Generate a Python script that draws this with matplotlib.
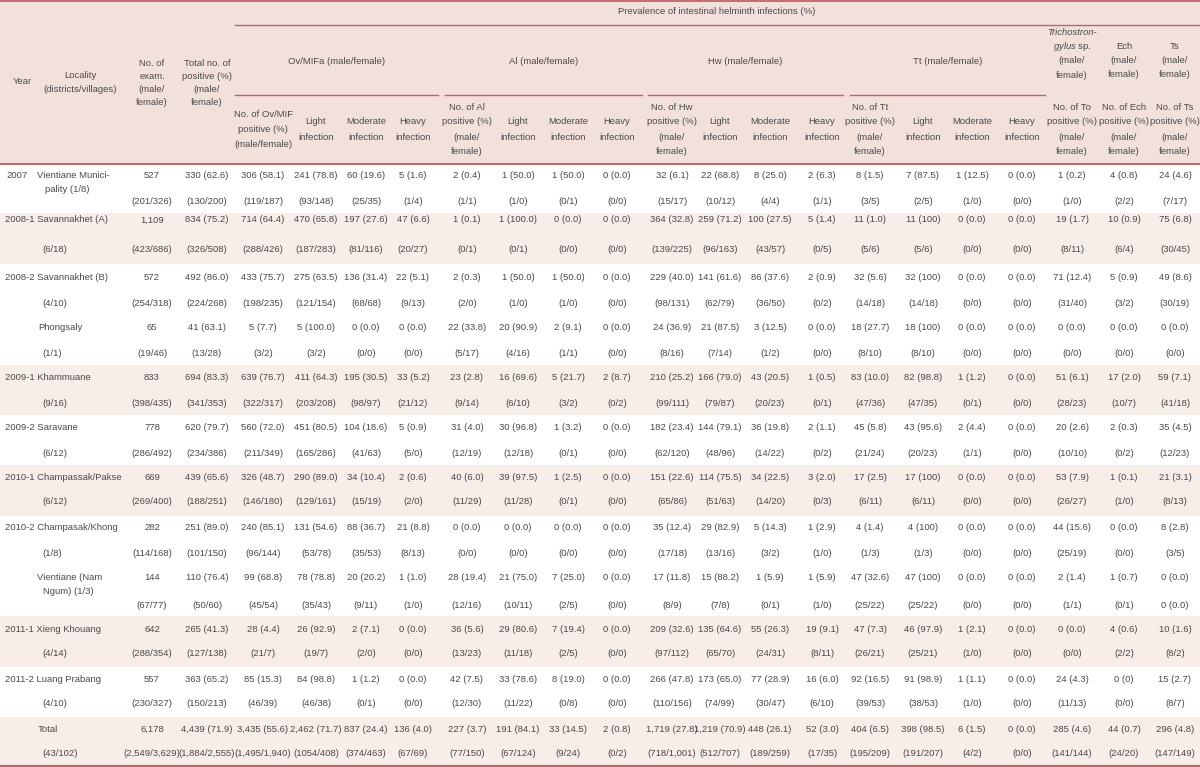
import matplotlib
matplotlib.use("Agg")
import matplotlib.pyplot as plt
from matplotlib.patches import Rectangle
from matplotlib import font_manager

# ---------------- data ----------------
years = ["2007", "2008-1", "2008-2", "", "2009-1", "2009-2", "2010-1", "2010-2", "", "2011-1", "2011-2", ""]
localities = ["Vientiane Munici-\npality (1/8)", "Savannakhet (A)", "Savannakhet (B)", "Phongsaly",
              "Khammuane", "Saravane", "Champassak/Pakse", "Champasak/Khong",
              "Vientiane (Nam\nNgum) (1/3)", "Xieng Khouang", "Luang Prabang", "Total"]
villages = ["", "(6/18)", "(4/10)", "(1/1)", "(9/16)", "(6/12)", "(6/12)", "(1/8)", "", "(4/14)", "(4/10)", "(43/102)"]

exam = [("527", "(201/326)"), ("1,109", "(423/686)"), ("572", "(254/318)"), ("65", "(19/46)"),
        ("833", "(398/435)"), ("778", "(286/492)"), ("669", "(269/400)"), ("282", "(114/168)"),
        ("144", "(67/77)"), ("642", "(288/354)"), ("557", "(230/327)"), ("6,178", "(2,549/3,629)")]
total_pos = [("330 (62.6)", "(130/200)"), ("834 (75.2)", "(326/508)"), ("492 (86.0)", "(224/268)"),
             ("41 (63.1)", "(13/28)"), ("694 (83.3)", "(341/353)"), ("620 (79.7)", "(234/386)"),
             ("439 (65.6)", "(188/251)"), ("251 (89.0)", "(101/150)"), ("110 (76.4)", "(50/60)"),
             ("265 (41.3)", "(127/138)"), ("363 (65.2)", "(150/213)"), ("4,439 (71.9)", "(1,884/2,555)")]
ov_no = [("306 (58.1)", "(119/187)"), ("714 (64.4)", "(288/426)"), ("433 (75.7)", "(198/235)"),
         ("5 (7.7)", "(3/2)"), ("639 (76.7)", "(322/317)"), ("560 (72.0)", "(211/349)"),
         ("326 (48.7)", "(146/180)"), ("240 (85.1)", "(96/144)"), ("99 (68.8)", "(45/54)"),
         ("28 (4.4)", "(21/7)"), ("85 (15.3)", "(46/39)"), ("3,435 (55.6)", "(1,495/1,940)")]
ov_light = [("241 (78.8)", "(93/148)"), ("470 (65.8)", "(187/283)"), ("275 (63.5)", "(121/154)"),
            ("5 (100.0)", "(3/2)"), ("411 (64.3)", "(203/208)"), ("451 (80.5)", "(165/286)"),
            ("290 (89.0)", "(129/161)"), ("131 (54.6)", "(53/78)"), ("78 (78.8)", "(35/43)"),
            ("26 (92.9)", "(19/7)"), ("84 (98.8)", "(46/38)"), ("2,462 (71.7)", "(1054/408)")]
ov_mod = [("60 (19.6)", "(25/35)"), ("197 (27.6)", "(81/116)"), ("136 (31.4)", "(68/68)"),
          ("0 (0.0)", "(0/0)"), ("195 (30.5)", "(98/97)"), ("104 (18.6)", "(41/63)"),
          ("34 (10.4)", "(15/19)"), ("88 (36.7)", "(35/53)"), ("20 (20.2)", "(9/11)"),
          ("2 (7.1)", "(2/0)"), ("1 (1.2)", "(0/1)"), ("837 (24.4)", "(374/463)")]
ov_heavy = [("5 (1.6)", "(1/4)"), ("47 (6.6)", "(20/27)"), ("22 (5.1)", "(9/13)"),
            ("0 (0.0)", "(0/0)"), ("33 (5.2)", "(21/12)"), ("5 (0.9)", "(5/0)"),
            ("2 (0.6)", "(2/0)"), ("21 (8.8)", "(8/13)"), ("1 (1.0)", "(1/0)"),
            ("0 (0.0)", "(0/0)"), ("0 (0.0)", "(0/0)"), ("136 (4.0)", "(67/69)")]
al_no = [("2 (0.4)", "(1/1)"), ("1 (0.1)", "(0/1)"), ("2 (0.3)", "(2/0)"), ("22 (33.8)", "(5/17)"),
         ("23 (2.8)", "(9/14)"), ("31 (4.0)", "(12/19)"), ("40 (6.0)", "(11/29)"), ("0 (0.0)", "(0/0)"),
         ("28 (19.4)", "(12/16)"), ("36 (5.6)", "(13/23)"), ("42 (7.5)", "(12/30)"), ("227 (3.7)", "(77/150)")]
al_light = [("1 (50.0)", "(1/0)"), ("1 (100.0)", "(0/1)"), ("1 (50.0)", "(1/0)"), ("20 (90.9)", "(4/16)"),
            ("16 (69.6)", "(6/10)"), ("30 (96.8)", "(12/18)"), ("39 (97.5)", "(11/28)"), ("0 (0.0)", "(0/0)"),
            ("21 (75.0)", "(10/11)"), ("29 (80.6)", "(11/18)"), ("33 (78.6)", "(11/22)"), ("191 (84.1)", "(67/124)")]
al_mod = [("1 (50.0)", "(0/1)"), ("0 (0.0)", "(0/0)"), ("1 (50.0)", "(1/0)"), ("2 (9.1)", "(1/1)"),
          ("5 (21.7)", "(3/2)"), ("1 (3.2)", "(0/1)"), ("1 (2.5)", "(0/1)"), ("0 (0.0)", "(0/0)"),
          ("7 (25.0)", "(2/5)"), ("7 (19.4)", "(2/5)"), ("8 (19.0)", "(0/8)"), ("33 (14.5)", "(9/24)")]
al_heavy = [("0 (0.0)", "(0/0)"), ("0 (0.0)", "(0/0)"), ("0 (0.0)", "(0/0)"), ("0 (0.0)", "(0/0)"),
            ("2 (8.7)", "(0/2)"), ("0 (0.0)", "(0/0)"), ("0 (0.0)", "(0/0)"), ("0 (0.0)", "(0/0)"),
            ("0 (0.0)", "(0/0)"), ("0 (0.0)", "(0/0)"), ("0 (0.0)", "(0/0)"), ("2 (0.8)", "(0/2)")]
hw_no = [("32 (6.1)", "(15/17)"), ("364 (32.8)", "(139/225)"), ("229 (40.0)", "(98/131)"),
         ("24 (36.9)", "(8/16)"), ("210 (25.2)", "(99/111)"), ("182 (23.4)", "(62/120)"),
         ("151 (22.6)", "(65/86)"), ("35 (12.4)", "(17/18)"), ("17 (11.8)", "(8/9)"),
         ("209 (32.6)", "(97/112)"), ("266 (47.8)", "(110/156)"), ("1,719 (27.8)", "(718/1,001)")]
hw_light = [("22 (68.8)", "(10/12)"), ("259 (71.2)", "(96/163)"), ("141 (61.6)", "(62/79)"),
            ("21 (87.5)", "(7/14)"), ("166 (79.0)", "(79/87)"), ("144 (79.1)", "(48/96)"),
            ("114 (75.5)", "(51/63)"), ("29 (82.9)", "(13/16)"), ("15 (88.2)", "(7/8)"),
            ("135 (64.6)", "(65/70)"), ("173 (65.0)", "(74/99)"), ("1,219 (70.9)", "(512/707)")]
hw_mod = [("8 (25.0)", "(4/4)"), ("100 (27.5)", "(43/57)"), ("86 (37.6)", "(36/50)"),
          ("3 (12.5)", "(1/2)"), ("43 (20.5)", "(20/23)"), ("36 (19.8)", "(14/22)"),
          ("34 (22.5)", "(14/20)"), ("5 (14.3)", "(3/2)"), ("1 (5.9)", "(0/1)"),
          ("55 (26.3)", "(24/31)"), ("77 (28.9)", "(30/47)"), ("448 (26.1)", "(189/259)")]
hw_heavy = [("2 (6.3)", "(1/1)"), ("5 (1.4)", "(0/5)"), ("2 (0.9)", "(0/2)"), ("0 (0.0)", "(0/0)"),
            ("1 (0.5)", "(0/1)"), ("2 (1.1)", "(0/2)"), ("3 (2.0)", "(0/3)"), ("1 (2.9)", "(1/0)"),
            ("1 (5.9)", "(1/0)"), ("19 (9.1)", "(8/11)"), ("16 (6.0)", "(6/10)"), ("52 (3.0)", "(17/35)")]
tt_no = [("8 (1.5)", "(3/5)"), ("11 (1.0)", "(5/6)"), ("32 (5.6)", "(14/18)"), ("18 (27.7)", "(8/10)"),
         ("83 (10.0)", "(47/36)"), ("45 (5.8)", "(21/24)"), ("17 (2.5)", "(6/11)"), ("4 (1.4)", "(1/3)"),
         ("47 (32.6)", "(25/22)"), ("47 (7.3)", "(26/21)"), ("92 (16.5)", "(39/53)"), ("404 (6.5)", "(195/209)")]
tt_light = [("7 (87.5)", "(2/5)"), ("11 (100)", "(5/6)"), ("32 (100)", "(14/18)"), ("18 (100)", "(8/10)"),
            ("82 (98.8)", "(47/35)"), ("43 (95.6)", "(20/23)"), ("17 (100)", "(6/11)"), ("4 (100)", "(1/3)"),
            ("47 (100)", "(25/22)"), ("46 (97.9)", "(25/21)"), ("91 (98.9)", "(38/53)"), ("398 (98.5)", "(191/207)")]
tt_mod = [("1 (12.5)", "(1/0)"), ("0 (0.0)", "(0/0)"), ("0 (0.0)", "(0/0)"), ("0 (0.0)", "(0/0)"),
          ("1 (1.2)", "(0/1)"), ("2 (4.4)", "(1/1)"), ("0 (0.0)", "(0/0)"), ("0 (0.0)", "(0/0)"),
          ("0 (0.0)", "(0/0)"), ("1 (2.1)", "(1/0)"), ("1 (1.1)", "(1/0)"), ("6 (1.5)", "(4/2)")]
tt_heavy = [("0 (0.0)", "(0/0)")] * 12
to_pos = [("1 (0.2)", "(1/0)"), ("19 (1.7)", "(8/11)"), ("71 (12.4)", "(31/40)"), ("0 (0.0)", "(0/0)"),
          ("51 (6.1)", "(28/23)"), ("20 (2.6)", "(10/10)"), ("53 (7.9)", "(26/27)"), ("44 (15.6)", "(25/19)"),
          ("2 (1.4)", "(1/1)"), ("0 (0.0)", "(0/0)"), ("24 (4.3)", "(11/13)"), ("285 (4.6)", "(141/144)")]
ech_pos = [("4 (0.8)", "(2/2)"), ("10 (0.9)", "(6/4)"), ("5 (0.9)", "(3/2)"), ("0 (0.0)", "(0/0)"),
           ("17 (2.0)", "(10/7)"), ("2 (0.3)", "(0/2)"), ("1 (0.1)", "(1/0)"), ("0 (0.0)", "(0/0)"),
           ("1 (0.7)", "(0/1)"), ("4 (0.6)", "(2/2)"), ("0 (0)", "(0/0)"), ("44 (0.7)", "(24/20)")]
ts_pos = [("24 (4.6)", "(7/17)"), ("75 (6.8)", "(30/45)"), ("49 (8.6)", "(30/19)"), ("0 (0.0)", "(0/0)"),
          ("59 (7.1)", "(41/18)"), ("35 (4.5)", "(12/23)"), ("21 (3.1)", "(8/13)"), ("8 (2.8)", "(3/5)"),
          ("0 (0.0)", "0 (0.0)"), ("10 (1.6)", "(8/2)"), ("15 (2.7)", "(8/7)"), ("296 (4.8)", "(147/149)")]

columns = [exam, total_pos, ov_no, ov_light, ov_mod, ov_heavy, al_no, al_light, al_mod, al_heavy,
           hw_no, hw_light, hw_mod, hw_heavy, tt_no, tt_light, tt_mod, tt_heavy, to_pos, ech_pos, ts_pos]

# ---------------- layout / style ----------------
names = {f.name for f in font_manager.fontManager.ttflist}
if "Liberation Sans Narrow" in names:
    FAM, FS = "Liberation Sans Narrow", 7.9
else:
    FAM, FS = "Liberation Sans", 6.8
plt.rcParams["font.family"] = [FAM, "DejaVu Sans"]
plt.rcParams["mathtext.fontset"] = "custom"
plt.rcParams["mathtext.rm"] = FAM
plt.rcParams["mathtext.it"] = FAM + ":italic"

TXT = "#4a4a4a"
LINE = "#c0646a"
HEAD_BG = "#f2e1db"
BAND = "#f7ede9"

col_x = [152, 207, 263, 316, 366, 413, 467, 518, 568, 617, 672, 720, 770, 822,
         870, 923, 972, 1022, 1072, 1124, 1175]
row_tops = [164, 213, 264, 314, 365, 415, 465, 516, 566, 616, 667, 717, 767]
line1 = [176, 220, 278, 328, 378, 428, 478, 528, 578, 629, 679, 729]
line2 = [202, 250, 303, 353, 404, 453, 501, 553, 605, 654, 704, 754]
shaded = [False, True, False, False, True, False, True, False, False, True, False, True]

fig = plt.figure(figsize=(12, 7.67), dpi=100)
ax = fig.add_axes([0, 0, 1, 1])
ax.set_xlim(0, 1200)
ax.set_ylim(767, 0)
ax.axis("off")


def t(x, y, s, ha="center", **kw):
    ax.text(x, y, s, ha=ha, va="center", fontsize=FS, color=TXT, **kw)


def ml(x, yc, lines, sp=14.7, ha="center"):
    n = len(lines)
    y0 = yc - sp * (n - 1) / 2
    for i, s in enumerate(lines):
        t(x, y0 + i * sp, s, ha=ha)


# backgrounds
ax.add_patch(Rectangle((0, 0), 1200, 164, color=HEAD_BG, lw=0, zorder=0))
for i, sh in enumerate(shaded):
    if sh:
        ax.add_patch(Rectangle((0, row_tops[i]), 1200, row_tops[i + 1] - row_tops[i],
                               color=BAND, lw=0, zorder=0))

# rules
ax.plot([0, 1200], [1, 1], color=LINE, lw=1.3)
ax.plot([235, 1200], [25, 25], color=LINE, lw=1.0)
for a, b in [(235, 438), (445, 642), (648, 843), (850, 1045)]:
    ax.plot([a, b], [95, 95], color=LINE, lw=1.0)
ax.plot([0, 1200], [163.5, 163.5], color=LINE, lw=1.4)
ax.plot([0, 1200], [766, 766], color=LINE, lw=1.6)

# header text
t(717, 12, "Prevalence of intestinal helminth infections (%)")
t(22, 82, "Year")
ml(80, 82.5, ["Locality", "(districts/villages)"], sp=14.5)
ml(152, 83, ["No. of", "exam.", "(male/", "female)"], sp=13.2)
ml(207, 83, ["Total no. of", "positive (%)", "(male/", "female)"], sp=13.2)
t(337, 62, "Ov/MIFa (male/female)")
t(544, 62, "Al (male/female)")
t(745, 62, "Hw (male/female)")
t(948, 62, "Tt (male/female)")

yT = 32.3
tsp = 14.3
ax.text(1072, yT, "Trichostron-", ha="center", va="center", fontsize=FS, color=TXT, style="italic")
ax.text(1072, yT + tsp, r"$\mathit{gylus}$ sp.", ha="center", va="center", fontsize=FS, color=TXT)
t(1072, yT + 2 * tsp, "(male/")
t(1072, yT + 3 * tsp, "female)")
ml(1124, 60.5, ["Ech", "(male/", "female)"], sp=14.3)
ml(1175, 60.5, ["Ts", "(male/", "female)"], sp=14.3)

sub_y = 129.5
ml(263, sub_y, ["No. of Ov/MIF", "positive (%)", "(male/female)"])
for grp_no_x, tag in [(467, "Al"), (672, "Hw"), (870, "Tt")]:
    ml(grp_no_x, sub_y, ["No. of %s" % tag, "positive (%)", "(male/", "female)"], sp=15)
light_x = [316, 518, 720, 923]
mod_x = [366, 568, 770, 972]
heavy_x = [413, 617, 822, 1022]
for lx, mx, hx in zip(light_x, mod_x, heavy_x):
    ml(lx, sub_y, ["Light", "infection"], sp=15)
    ml(mx, sub_y, ["Moderate", "infection"], sp=15)
    ml(hx, sub_y, ["Heavy", "infection"], sp=15)
for x, tag in [(1072, "To"), (1124, "Ech"), (1175, "Ts")]:
    ml(x, sub_y, ["No. of %s" % tag, "positive (%)", "(male/", "female)"], sp=15)

# body: first columns
for i in range(len(localities)):
    y1, y2 = line1[i], line2[i]
    loc = localities[i].split("\n")
    yr = years[i]
    if len(loc) == 2:
        if yr:
            t(6, y1, yr, ha="left")
        t(37, y1, loc[0], ha="left")
        t(37 + (8 if yr else 6), y1 + 14, loc[1], ha="left")
    else:
        if yr:
            t(5, y1, yr + " " + loc[0], ha="left")
        else:
            t(38, y1, loc[0], ha="left")
    if villages[i]:
        t(42, y2, villages[i], ha="left")

# body: numeric columns
for x, col in zip(col_x, columns):
    for i, (a, b) in enumerate(col):
        t(x, line1[i], a)
        t(x, line2[i], b)

fig.savefig("out.png", dpi=100)
